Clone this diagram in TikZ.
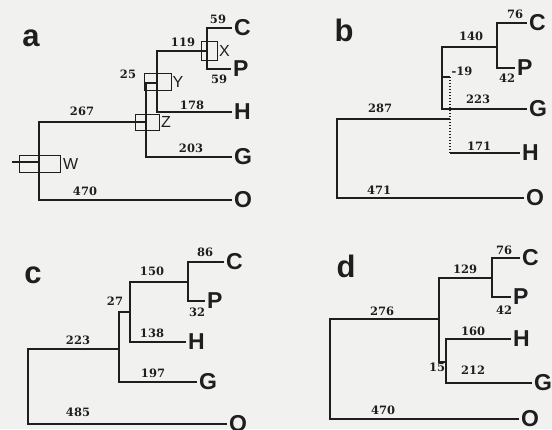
\documentclass[tikz,border=0pt]{standalone}
\usepackage{fontspec}
\setmainfont{DejaVu Serif}
\setsansfont{Liberation Sans}
\usepackage{tikz}
\usetikzlibrary{positioning}
\definecolor{paper}{RGB}{241,242,240}
\definecolor{ink}{RGB}{30,30,30}

\begin{document}
\begin{tikzpicture}[x=1pt,y=-1pt,
  branch/.style={draw=ink,line width=1.4pt},
  dotbranch/.style={draw=ink,line width=1.4pt,dash pattern=on 1.3pt off 1.7pt},
  nbox/.style={draw=ink,line width=0.7pt,inner sep=0pt,outer sep=0pt},
  tip/.style={anchor=west,inner xsep=2pt,inner ysep=0pt,font=\sffamily\bfseries\fontsize{23}{23}\selectfont,text=ink},
  num/.style={inner sep=0pt,font=\bfseries\fontsize{11.5}{11.5}\selectfont,text=ink},
  panel/.style={inner sep=0pt,font=\sffamily\bfseries\fontsize{31}{31}\selectfont,text=ink},
  vlbl/.style={inner sep=0pt,font=\sffamily\fontsize{16}{16}\selectfont,text=ink}]

  \fill[paper] (0,0) rectangle (552,429);
  \useasboundingbox (0,0) rectangle (552,429);

  % Tree a: with node boxes W, Z, Y, X
  \node[panel] (pa) at (31,38) {a};
  \coordinate (aR) at (12,162);
  \coordinate (aW) at (39,162);
  \coordinate (aWb) at (39,200);
  \coordinate (aZ) at (146,122);
  \coordinate (aZb) at (146,157);
  \coordinate (aY) at (157,83);
  \coordinate (aYb) at (157,112);
  \coordinate (aX) at (207,51);
  \coordinate (aXb) at (207,69);
  \node[tip] (aC) at (232,28) {C};
  \node[tip] (aP) at (231,69) {P};
  \node[tip] (aH) at (232,112) {H};
  \node[tip] (aG) at (232,157) {G};
  \node[tip] (aO) at (232,200) {O};
  \draw[branch] (aR) -- (aW);
  \draw[branch] (aZ) -| (aWb) -- (aO.west);
  \draw[branch] (aY) -| (aZb) -- (aG.west);
  \draw[branch] (aX) -| (aYb) -- (aH.west);
  \draw[branch] (aC.west) -| (aXb) -- (aP.west);
  \node[nbox,minimum width=41pt,minimum height=17pt] (bxW) at (39.5,163.5) {};
  \node[nbox,minimum width=24pt,minimum height=16pt] (bxZ) at (147,122) {};
  \node[nbox,minimum width=27pt,minimum height=17pt] (bxY) at (157.5,81.5) {};
  \node[nbox,minimum width=16pt,minimum height=19pt] (bxX) at (209,50.5) {};
  \node[vlbl,right=3pt of bxW] (lW) {W};
  \node[vlbl,right=2pt of bxZ] (lZ) {Z};
  \node[vlbl,right=1.5pt of bxY] (lY) {Y};
  \node[vlbl,right=2pt of bxX] (lX) {X};
  \node[num] (na1) at (218,19) {59};
  \node[num] (na2) at (219,79) {59};
  \node[num] (na3) at (183,42) {119};
  \node[num] (na4) at (128,74) {25};
  \node[num] (na5) at (192,105) {178};
  \node[num] (na6) at (82,111) {267};
  \node[num] (na7) at (191,148) {203};
  \node[num] (na8) at (85,191) {470};

  % Tree b: negative branch drawn dotted
  \node[panel] (pb) at (344,30) {b};
  \coordinate (bD) at (450,119);
  \coordinate (bDt) at (450,77);
  \coordinate (bDb) at (450,153);
  \coordinate (bK) at (442,77);
  \coordinate (bGj) at (442,109);
  \coordinate (bM) at (497,47);
  \coordinate (bPj) at (497,68);
  \coordinate (bRb) at (337,198);
  \node[tip] (bC) at (527,23) {C};
  \node[tip] (bP) at (515,68) {P};
  \node[tip] (bG) at (527,109) {G};
  \node[tip] (bH) at (520,153) {H};
  \node[tip] (bO) at (524,198) {O};
  \draw[branch] (bD) -| (bRb) -- (bO.west);
  \draw[dotbranch] (bDt) -- (bDb);
  \draw[branch] (bDb) -- (bH.west);
  \draw[branch] (bDt) -- (bK);
  \draw[branch] (bM) -| (bGj) -- (bG.west);
  \draw[branch] (bC.west) -| (bPj) -- (bP.west);
  \node[num] (nb1) at (515,14) {76};
  \node[num] (nb2) at (471,36) {140};
  \node[num] (nb3) at (462,71) {-19};
  \node[num] (nb4) at (507,78) {42};
  \node[num] (nb5) at (478,99) {223};
  \node[num] (nb6) at (380,108) {287};
  \node[num] (nb7) at (479,146) {171};
  \node[num] (nb8) at (379,190) {471};

  % Tree c
  \node[panel] (pc) at (33,275) {c};
  \coordinate (cA) at (119,349);
  \coordinate (cRb) at (28,424);
  \coordinate (cB) at (130,312);
  \coordinate (cAb) at (119,382);
  \coordinate (cX) at (188,282);
  \coordinate (cBb) at (130,342);
  \coordinate (cXb) at (188,301);
  \node[tip] (cC) at (224,262) {C};
  \node[tip] (cP) at (205,301) {P};
  \node[tip] (cH) at (186,342) {H};
  \node[tip] (cG) at (197,382) {G};
  \node[tip] (cO) at (227,424) {O};
  \draw[branch] (cA) -| (cRb) -- (cO.west);
  \draw[branch] (cB) -| (cAb) -- (cG.west);
  \draw[branch] (cX) -| (cBb) -- (cH.west);
  \draw[branch] (cC.west) -| (cXb) -- (cP.west);
  \node[num] (nc1) at (205,252) {86};
  \node[num] (nc2) at (152,271) {150};
  \node[num] (nc3) at (115,301) {27};
  \node[num] (nc4) at (197,312) {32};
  \node[num] (nc5) at (152,333) {138};
  \node[num] (nc6) at (78,340) {223};
  \node[num] (nc7) at (153,373) {197};
  \node[num] (nc8) at (78,412) {485};

  % Tree d
  \node[panel] (pd) at (346,266) {d};
  \coordinate (dA) at (439,319);
  \coordinate (dRb) at (330,419);
  \coordinate (dT) at (492,278);
  \coordinate (dAb) at (439,362);
  \coordinate (dB) at (446,362);
  \coordinate (dBb) at (446,383);
  \coordinate (dXb) at (492,297);
  \node[tip] (dC) at (520,258) {C};
  \node[tip] (dP) at (511,297) {P};
  \node[tip] (dH) at (511,339) {H};
  \node[tip] (dG) at (532,383) {G};
  \node[tip] (dO) at (519,419) {O};
  \draw[branch] (dA) -| (dRb) -- (dO.west);
  \draw[branch] (dT) -| (dAb) -- (dB);
  \draw[branch] (dH.west) -| (dBb) -- (dG.west);
  \draw[branch] (dC.west) -| (dXb) -- (dP.west);
  \node[num] (nd1) at (504,250) {76};
  \node[num] (nd2) at (465,269) {129};
  \node[num] (nd3) at (382,311) {276};
  \node[num] (nd4) at (504,310) {42};
  \node[num] (nd5) at (473,331) {160};
  \node[num] (nd6) at (437,367) {15};
  \node[num] (nd7) at (473,370) {212};
  \node[num] (nd8) at (383,410) {470};

\end{tikzpicture}
\end{document}
